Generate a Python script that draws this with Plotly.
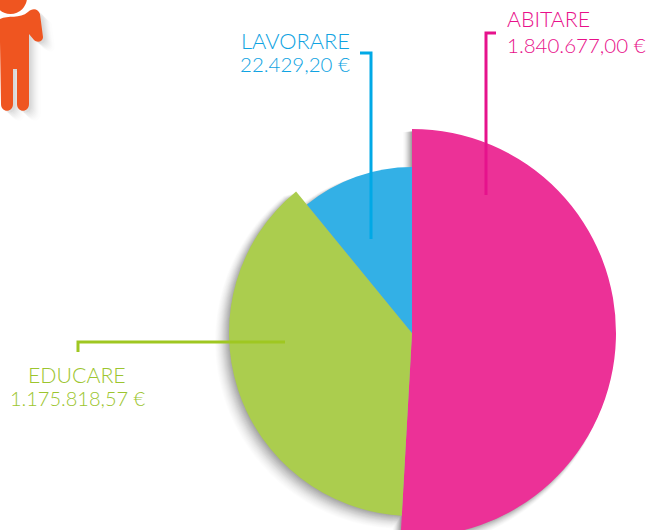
import plotly.graph_objects as go

# --- data ---
categories = ["ABITARE", "EDUCARE", "LAVORARE"]
amount_labels = ["1.840.677,00 €", "1.175.818,57 €", "22.429,20 €"]
slice_spans = [183.2, 137.5, 39.3]      # degrees, clockwise from 12 o'clock
slice_radii = [204, 183, 166]           # exploded radius of each slice
slice_colors = ["#EC3197", "#ABCD4E", "#33B0E6"]
text_colors = ["#E8108A", "#9CC52E", "#0FA3E2"]
line_colors = ["#E6128C", "#9FC721", "#00A9E6"]

W, H = 651, 570
CX, CY = 412, 333

starts = [sum(slice_spans[:i]) for i in range(len(slice_spans))]
mids = [s + w / 2 for s, w in zip(starts, slice_spans)]


def px(x):
    return x / W


def py(y):
    return 1 - y / H


fig = go.Figure()
layout_extra = {}


def add_layer(idx, radii, colors, dx=0, dy=0):
    name = "polar" if idx == 1 else f"polar{idx}"
    rmax = max(radii) + 1
    fig.add_trace(go.Barpolar(
        r=radii, theta=mids, width=slice_spans,
        marker=dict(color=colors, line=dict(width=0)),
        subplot=name, hoverinfo="skip", showlegend=False,
    ))
    layout_extra[name] = dict(
        domain=dict(
            x=[px(CX + dx - rmax), px(CX + dx + rmax)],
            y=[py(CY + dy + rmax), py(CY + dy - rmax)],
        ),
        bgcolor="rgba(0,0,0,0)",
        radialaxis=dict(visible=False, range=[0, rmax]),
        angularaxis=dict(visible=False, direction="clockwise", rotation=90),
    )


# soft drop shadow: stacked translucent copies of the pie, spreading down-left
N_SHADOW = 16
for n in range(N_SHADOW):
    t = 1 - n / (N_SHADOW - 1)          # farthest layer first
    add_layer(n + 1, [r + (-1 + 6 * t) for r in slice_radii],
              [f"rgba(0,0,0,{0.012 + 0.035 * (1 - t) ** 1.5:.4f})"] * 3,
              dx=-1 - 8 * t, dy=1 + 7 * t)
add_layer(N_SHADOW + 1, slice_radii, slice_colors)

shapes = []


def polyline(points, color, width=3):
    d = "M" + " L".join(f"{px(x):.5f},{py(y):.5f}" for x, y in points)
    shapes.append(dict(type="path", path=d, xref="paper", yref="paper",
                       line=dict(color=color, width=width), layer="above"))


polyline([(496, 33), (486, 33), (486, 195)], line_colors[0])
polyline([(78, 352), (78, 342), (285, 342)], line_colors[1])
polyline([(360, 53), (371, 53), (371, 239)], line_colors[2])

# person pictogram
body = [("M", 0, 19), ("C", 8, 15, 20, 19, 28, 12), ("C", 32, 8, 38, 8, 40, 14),
        ("L", 43, 37), ("C", 43, 42, 37, 43, 34, 40), ("L", 29, 34),
        ("L", 29, 104), ("C", 29, 113, 17, 113, 17, 104), ("L", 17, 69),
        ("L", 13, 69), ("L", 13, 104), ("C", 13, 113, 1, 113, 1, 104),
        ("L", 0, 42)]


def body_path(ox=0, oy=0):
    out = []
    for seg in body:
        nums = seg[1:]
        pts = [f"{px(nums[i] + ox):.5f},{py(nums[i + 1] + oy):.5f}"
               for i in range(0, len(nums), 2)]
        out.append(seg[0] + " ".join(pts))
    return " ".join(out) + " Z"


for ox, oy, a in [(12, 10, 0.006), (10, 9, 0.008), (9, 8, 0.01), (8, 7, 0.012), (7, 6, 0.014),
                  (6, 5, 0.016), (5, 4, 0.018), (4, 3, 0.02), (3, 2, 0.02), (2, 2, 0.02)]:
    shapes.append(dict(type="path", path=body_path(ox, oy), xref="paper", yref="paper",
                       fillcolor=f"rgba(0,0,0,{a})", line=dict(width=0), layer="below"))
shapes.append(dict(type="path", path=body_path(), xref="paper", yref="paper",
                   fillcolor="#EF5520", line=dict(width=0), layer="above"))
shapes.append(dict(type="circle", xref="paper", yref="paper",
                   x0=px(-6), x1=px(27), y0=py(-19), y1=py(14),
                   fillcolor="#EF5520", line=dict(width=0), layer="above"))

FONT = "Lato"
anns = []


def label(x, y, text, color, anchor, size):
    anns.append(dict(x=px(x), y=py(y), xref="paper", yref="paper", text=text,
                     showarrow=False, xanchor=anchor, yanchor="middle",
                     borderpad=0,
                     font=dict(family=FONT, size=size, color=color, weight=300)))


label(506, 19, categories[0], text_colors[0], "left", 21.3)
label(506, 45, amount_labels[0], text_colors[0], "left", 20.5)
label(77, 374.5, categories[1], text_colors[1], "center", 21.3)
label(78, 398, amount_labels[1], text_colors[1], "center", 20)
label(351, 40, categories[2], text_colors[2], "right", 21.8)
label(351, 64, amount_labels[2], text_colors[2], "right", 20.5)

fig.update_layout(width=W, height=H, margin=dict(l=0, r=0, t=0, b=0), autosize=False,
                  paper_bgcolor="white", showlegend=False,
                  shapes=shapes, annotations=anns, **layout_extra)

fig.write_html("out.html", config={"displayModeBar": False},
               post_script="document.documentElement.style.overflow='hidden';"
                           "document.body.style.overflow='hidden';"
                           "document.body.style.margin='0';")
